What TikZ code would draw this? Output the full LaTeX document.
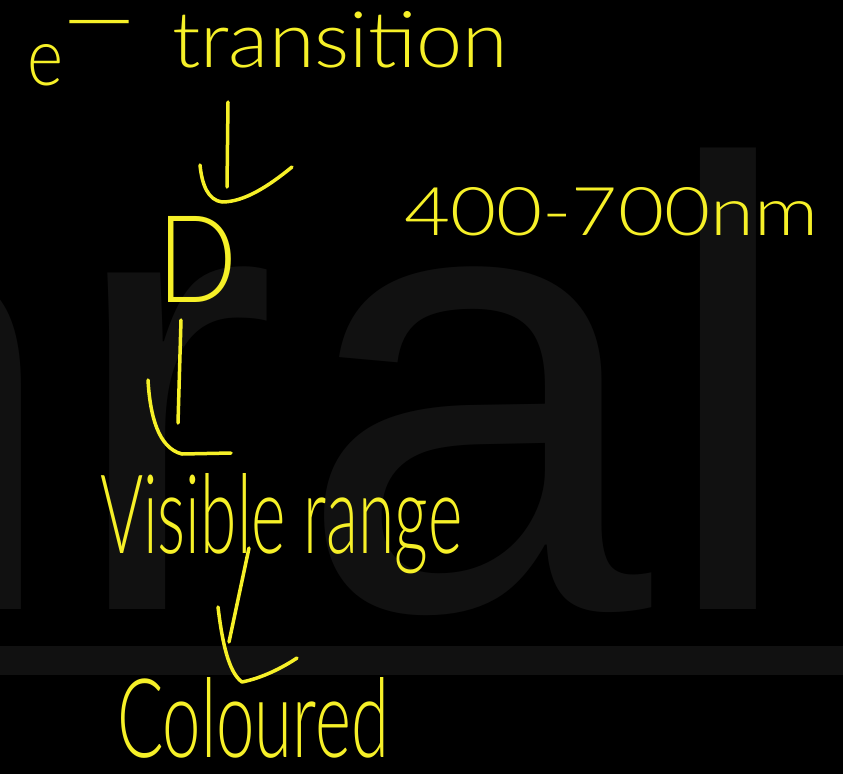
\documentclass[tikz,border=0pt]{standalone}
\usepackage{fontspec}
\IfFontExistsTF{Lato Light}
  {\setmainfont{Lato Light}}
  {\IfFontExistsTF{Open Sans Light}
     {\setmainfont{Open Sans Light}}
     {\setmainfont{Carlito}}}
\newfontfamily\wmfont{Liberation Sans}
\definecolor{hand}{RGB}{246,240,40}
\definecolor{wm}{RGB}{17,17,17}
\tikzset{
  hw/.style={text=hand, inner sep=0pt, outer sep=0pt, anchor=base west},
  wmark/.style={text=wm, inner sep=0pt, outer sep=0pt, anchor=base west,
    font=\wmfont\fontsize{637}{637}\selectfont},
  pen/.style={draw=hand, line width=3.5pt, line cap=round, line join=round},
}
\begin{document}
\begin{tikzpicture}[x=1pt,y=-1pt]
\useasboundingbox (0,0) rectangle (843,774);
\fill[black] (0,0) rectangle (843,774);
\clip (0,0) rectangle (843,774);
% faint watermark
\node[wmark] (wn) at (-291,609) {n};
\node[wmark] (wr) at (65,609) {r};
\node[wmark] (wa) at (297,609) {a};
\node[wmark] (wl) at (657,609) {l};
\fill[wm] (0,646) rectangle (843,675);
% texts
\node[hw] (e) at (27,85) {\resizebox{36pt}{41pt}{e}\kern0pt\raisebox{37pt}{\resizebox{72pt}{!}{—}}};
\node[hw] (trans) at (172,67) {\resizebox{336pt}{56pt}{transition}};
\node[hw] (D) at (157,302) {\resizebox{80pt}{86pt}{D}};
\node[hw] (nm) at (404,235) {\resizebox{414pt}{48pt}{400-700nm}};
\node[hw] (vis) at (100,553) {\resizebox{362pt}{80pt}{Visible range}};
\node[hw] (col) at (117,757) {\resizebox{272pt}{80pt}{Coloured}};
% arrow 1
\coordinate (a1s) at (228,102);
\coordinate (a1e) at (227,187);
\draw[pen] (a1s) -- (a1e);
\draw[pen] (200,165) .. controls (202,185) and (208,200) .. (222,202)
  .. controls (245,202) and (270,185) .. (292,167);
% arrow 2
\coordinate (a2s) at (181,320);
\coordinate (a2e) at (178,423);
\draw[pen] (a2s) -- (a2e);
\draw[pen] (148,380) .. controls (150,415) and (158,448) .. (182,454) -- (231,453);
% arrow 3
\coordinate (a3s) at (249,548);
\coordinate (a3e) at (229,642);
\draw[pen] (a3s) -- (a3e);
\draw[pen] (218,607) .. controls (222,640) and (228,672) .. (242,682)
  .. controls (262,678) and (282,668) .. (297,658);
\end{tikzpicture}
\end{document}
